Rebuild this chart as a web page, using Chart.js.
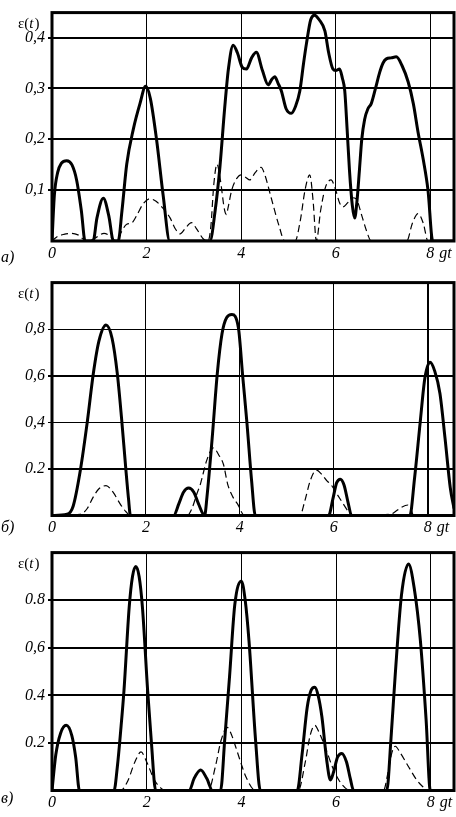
<!DOCTYPE html>
<html>
<head>
<meta charset="utf-8">
<script src="https://cdn.jsdelivr.net/npm/chart.js@4/dist/chart.umd.min.js"></script>
<style>
  body { margin: 0; background: #fff; width: 456px; height: 817px; overflow: hidden; position: relative; }
  canvas { position: absolute; left: 0; }
</style>
</head>
<body>
<canvas id="pa" width="456" height="270" style="top:0px"></canvas>
<canvas id="pb" width="456" height="270" style="top:270px"></canvas>
<canvas id="pc" width="456" height="277" style="top:540px"></canvas>
<script>
// ---- data ----
const xTicks = [0, 2, 4, 6, 8]
const xLabels = ['0', '2', '4', '6', '8']

// panel а)
const yTicksA = [0.1, 0.2, 0.3, 0.4]
const yLabelsA = ['0,1', '0,2', '0,3', '0,4']
const tSolidA = [0, 0.05, 0.12, 0.2, 0.31, 0.42, 0.52, 0.62, 0.70, 0.87, 0.95, 1.085, 1.2, 1.30, 1.40, 1.48, 1.58, 1.72, 1.86, 1.98, 2.08, 2.21, 2.35, 2.49, 3.34, 3.45, 3.55, 3.65, 3.73, 3.83, 3.92, 4.02, 4.11, 4.22, 4.32, 4.45, 4.57, 4.65, 4.71, 4.78, 4.85, 4.95, 5.06, 5.15, 5.24, 5.32, 5.38, 5.47, 5.55, 5.65, 5.77, 5.85, 5.94, 6.0, 6.08, 6.14, 6.19, 6.24, 6.29, 6.35, 6.40, 6.45, 6.50, 6.55, 6.61, 6.68, 6.75, 6.84, 6.93, 7.0, 7.07, 7.17, 7.28, 7.4, 7.53, 7.64, 7.74, 7.85, 7.95, 8.05, 8.5]
const vSolidA = [0, 0.09, 0.135, 0.153, 0.158, 0.15, 0.12, 0.06, 0, 0, 0.045, 0.084, 0.05, 0, 0, 0.06, 0.151, 0.22, 0.27, 0.304, 0.28, 0.2, 0.09, 0, 0, 0.06, 0.145, 0.26, 0.338, 0.385, 0.37, 0.342, 0.338, 0.36, 0.371, 0.335, 0.307, 0.318, 0.323, 0.31, 0.295, 0.26, 0.251, 0.265, 0.295, 0.35, 0.388, 0.435, 0.444, 0.435, 0.413, 0.37, 0.338, 0.335, 0.338, 0.32, 0.295, 0.22, 0.139, 0.07, 0.045, 0.08, 0.139, 0.2, 0.239, 0.26, 0.27, 0.3, 0.332, 0.35, 0.358, 0.36, 0.362, 0.345, 0.313, 0.27, 0.214, 0.16, 0.10, 0, 0]
const tDashA = [0, 0.1, 0.25, 0.42, 0.55, 0.73, 0.9, 1.1, 1.25, 1.35, 1.45, 1.58, 1.68, 1.79, 1.92, 2.07, 2.2, 2.35, 2.5, 2.6, 2.71, 2.82, 2.95, 3.05, 3.2, 3.3, 3.36, 3.42, 3.49, 3.56, 3.65, 3.69, 3.72, 3.8, 3.9, 4.0, 4.1, 4.18, 4.3, 4.42, 4.5, 4.64, 4.8, 4.92, 5.14, 5.25, 5.35, 5.45, 5.52, 5.59, 5.68, 5.78, 5.90, 6.0, 6.08, 6.15, 6.25, 6.35, 6.43, 6.55, 6.65, 6.75, 7.5, 7.62, 7.74, 7.85, 7.95, 8.5]
const vDashA = [0, 0.008, 0.013, 0.015, 0.012, 0, 0.005, 0.015, 0.008, 0, 0.015, 0.033, 0.035, 0.05, 0.072, 0.083, 0.078, 0.064, 0.045, 0.025, 0.014, 0.025, 0.036, 0.025, 0.004, 0, 0.03, 0.11, 0.151, 0.12, 0.06, 0.052, 0.064, 0.1, 0.122, 0.13, 0.125, 0.12, 0.135, 0.145, 0.13, 0.083, 0.03, 0, 0, 0.04, 0.1, 0.13, 0.08, 0, 0.06, 0.105, 0.12, 0.1, 0.075, 0.067, 0.075, 0.085, 0.083, 0.05, 0.02, 0, 0, 0.035, 0.054, 0.035, 0, 0]

// panel б)
const yTicksB = [0.2, 0.4, 0.6, 0.8]
const yLabelsB = ['0.2', '0,4', '0,6', '0,8']
const tSolidB = [0, 0.32, 0.45, 0.6, 0.75, 0.88, 1.0, 1.15, 1.28, 1.39, 1.48, 1.57, 1.63, 1.67, 2.59, 2.7, 2.8, 2.91, 3.02, 3.12, 3.25, 3.3, 3.41, 3.52, 3.62, 3.72, 3.83, 3.97, 4.06, 4.15, 4.25, 4.33, 5.89, 5.98, 6.06, 6.14, 6.22, 6.3, 6.38, 7.62, 7.72, 7.84, 7.94, 8.05, 8.15, 8.26, 8.37, 8.48, 8.56]
const vSolidB = [0, 0.005, 0.04, 0.19, 0.4, 0.61, 0.75, 0.818, 0.76, 0.61, 0.42, 0.204, 0.07, 0, 0, 0.05, 0.1, 0.118, 0.1, 0.05, 0, 0.08, 0.33, 0.61, 0.78, 0.85, 0.863, 0.805, 0.6, 0.40, 0.15, 0, 0, 0.07, 0.14, 0.156, 0.13, 0.06, 0, 0, 0.16, 0.40, 0.59, 0.658, 0.62, 0.525, 0.33, 0.12, 0.03]
const tDashB = [0, 0.6, 0.75, 0.88, 1.0, 1.15, 1.3, 1.45, 1.58, 1.67, 2.88, 2.98, 3.08, 3.16, 3.3, 3.44, 3.55, 3.65, 3.74, 3.85, 3.95, 4.1, 5.28, 5.38, 5.5, 5.63, 5.75, 5.85, 5.95, 6.06, 6.17, 6.3, 6.4, 7.2, 7.3, 7.44, 7.58, 7.64, 7.7, 8.56]
const vDashB = [0, 0.005, 0.03, 0.08, 0.115, 0.128, 0.1, 0.05, 0.015, 0, 0, 0.03, 0.09, 0.135, 0.24, 0.29, 0.26, 0.22, 0.135, 0.08, 0.05, 0, 0, 0.06, 0.15, 0.195, 0.175, 0.15, 0.13, 0.095, 0.06, 0.02, 0, 0.005, 0.015, 0.035, 0.045, 0.03, 0, 0]

// panel в)
const yTicksC = [0.2, 0.4, 0.6, 0.8]
const yLabelsC = ['0.2', '0.4', '0,6', '0.8']
const tSolidC = [0, 0.08, 0.18, 0.30, 0.42, 0.50, 0.58, 1.31, 1.38, 1.45, 1.52, 1.63, 1.70, 1.77, 1.84, 1.91, 2.02, 2.1, 2.19, 2.9, 3.0, 3.14, 3.27, 3.39, 3.56, 3.65, 3.75, 3.86, 4.0, 4.08, 4.16, 4.30, 4.40, 5.18, 5.28, 5.39, 5.47, 5.55, 5.62, 5.70, 5.80, 5.88, 5.95, 6.03, 6.12, 6.22, 6.3, 6.37, 7.07, 7.16, 7.25, 7.38, 7.53, 7.65, 7.78, 7.9, 7.99, 8.5]
const vSolidC = [0, 0.15, 0.24, 0.274, 0.23, 0.14, 0, 0, 0.1, 0.25, 0.42, 0.77, 0.9, 0.942, 0.9, 0.77, 0.42, 0.2, 0, 0, 0.05, 0.086, 0.05, 0, 0, 0.22, 0.48, 0.78, 0.88, 0.8, 0.63, 0.21, 0, 0, 0.15, 0.35, 0.42, 0.434, 0.4, 0.31, 0.13, 0.044, 0.08, 0.14, 0.156, 0.12, 0.05, 0, 0, 0.22, 0.49, 0.82, 0.952, 0.85, 0.63, 0.3, 0, 0]
const tDashC = [0, 1.45, 1.6, 1.75, 1.88, 2.0, 2.16, 2.3, 2.4, 3.3, 3.45, 3.57, 3.7, 3.78, 3.88, 4.0, 4.09, 4.3, 5.2, 5.35, 5.45, 5.55, 5.65, 5.77, 5.92, 6.07, 6.3, 7.0, 7.1, 7.18, 7.25, 7.35, 7.53, 7.7, 7.81, 7.95, 8.5]
const vDashC = [0, 0, 0.04, 0.12, 0.162, 0.12, 0.045, 0.01, 0, 0, 0.1, 0.21, 0.265, 0.24, 0.183, 0.11, 0.06, 0, 0, 0.12, 0.23, 0.274, 0.24, 0.183, 0.1, 0.04, 0, 0, 0.08, 0.16, 0.186, 0.16, 0.1, 0.045, 0.02, 0, 0]

// ---- drawing ----
const SERIF = '"Liberation Serif", "DejaVu Serif", serif'
const XPAD = 3

const decor = {
  id: 'decor',
  afterDraw(chart, args, o) {
    const ctx = chart.ctx
    const a = chart.chartArea
    const xs = chart.scales.x
    ctx.save()
    ctx.strokeStyle = '#000'
    ctx.lineWidth = 3
    ctx.strokeRect(a.left, a.top, a.right - a.left, a.bottom - a.top)

    ctx.fillStyle = '#000'
    ctx.textAlign = 'left'
    ctx.textBaseline = 'alphabetic'
    let x = 18
    const y = a.top + 15
    ctx.font = '15px ' + SERIF
    ctx.fillText('ε(', x, y)
    x += ctx.measureText('ε(').width
    ctx.font = 'italic 15px ' + SERIF
    ctx.fillText('t', x, y)
    x += ctx.measureText('t').width + 1
    ctx.font = '15px ' + SERIF
    ctx.fillText(')', x, y)

    ctx.font = 'italic 16px ' + SERIF
    ctx.textBaseline = 'middle'
    ctx.fillText('gt', xs.getPixelForValue(8) + 9, xs.top + XPAD + 9.6)
    ctx.fillText(o.letter, 1, o.letterY)
    ctx.restore()
  }
}

function panel(id, p) {
  const c = document.getElementById(id)
  const H = c.height
  new Chart(c, {
    type: 'line',
    data: {
      datasets: [
        {
          data: p.tS.map((t, i) => ({x: t, y: p.vS[i]})),
          borderColor: '#000', borderWidth: 3, pointRadius: 0,
          cubicInterpolationMode: 'monotone', fill: false
        },
        {
          data: p.tD.map((t, i) => ({x: t, y: p.vD[i]})),
          borderColor: '#000', borderWidth: 1.2, borderDash: [7, 4], pointRadius: 0,
          cubicInterpolationMode: 'monotone', fill: false
        }
      ]
    },
    options: {
      responsive: false,
      animation: false,
      layout: {padding: {top: p.top, right: 456 - 454, left: 0, bottom: 0}},
      plugins: {
        legend: {display: false},
        tooltip: {enabled: false},
        decor: {letter: p.letter, letterY: p.letterY}
      },
      scales: {
        x: {
          type: 'linear', min: 0, max: p.xmax,
          afterBuildTicks: s => { s.ticks = xTicks.map(v => ({value: v})) },
          afterFit: s => { s.height = H - p.bottom },
          ticks: {
            color: '#000', padding: XPAD, maxRotation: 0,
            font: {family: SERIF, size: 16, style: 'italic'},
            callback: (v, i) => xLabels[i]
          },
          grid: {
            color: '#000', drawTicks: false,
            lineWidth: ctx => (ctx.tick && p.wideX.includes(ctx.tick.value)) ? 2 : 1
          },
          border: {display: false}
        },
        y: {
          min: 0, max: p.ymax,
          afterBuildTicks: s => { s.ticks = p.yTicks.map(v => ({value: v})) },
          afterFit: s => { s.width = 52 },
          ticks: {
            color: '#000', padding: 3,
            font: {family: SERIF, size: 16, style: 'italic'},
            callback: (v, i) => p.yLabels[i]
          },
          grid: {
            color: '#000', tickLength: 4,
            lineWidth: ctx => (ctx.tick && p.wideY.includes(ctx.tick.value)) ? 2 : 1
          },
          border: {display: false}
        }
      }
    },
    plugins: [decor]
  })
}

panel('pa', {
  tS: tSolidA, vS: vSolidA, tD: tDashA, vD: vDashA,
  yTicks: yTicksA, yLabels: yLabelsA, ymax: 0.449, xmax: 8.5,
  top: 1, bottom: 241, letter: 'а)', letterY: 258,
  wideY: [0.1, 0.2, 0.3, 0.4], wideX: []
})
panel('pb', {
  tS: tSolidB, vS: vSolidB, tD: tDashB, vD: vDashB,
  yTicks: yTicksB, yLabels: yLabelsB, ymax: 1.0, xmax: 8.56,
  top: 5, bottom: 245.5, letter: 'б)', letterY: 258,
  wideY: [0.2, 0.6], wideX: [8]
})
panel('pc', {
  tS: tSolidC, vS: vSolidC, tD: tDashC, vD: vDashC,
  yTicks: yTicksC, yLabels: yLabelsC, ymax: 1.0, xmax: 8.49,
  top: 11, bottom: 250.5, letter: 'в)', letterY: 259,
  wideY: [0.2, 0.4, 0.6, 0.8], wideX: []
})
</script>
</body>
</html>
